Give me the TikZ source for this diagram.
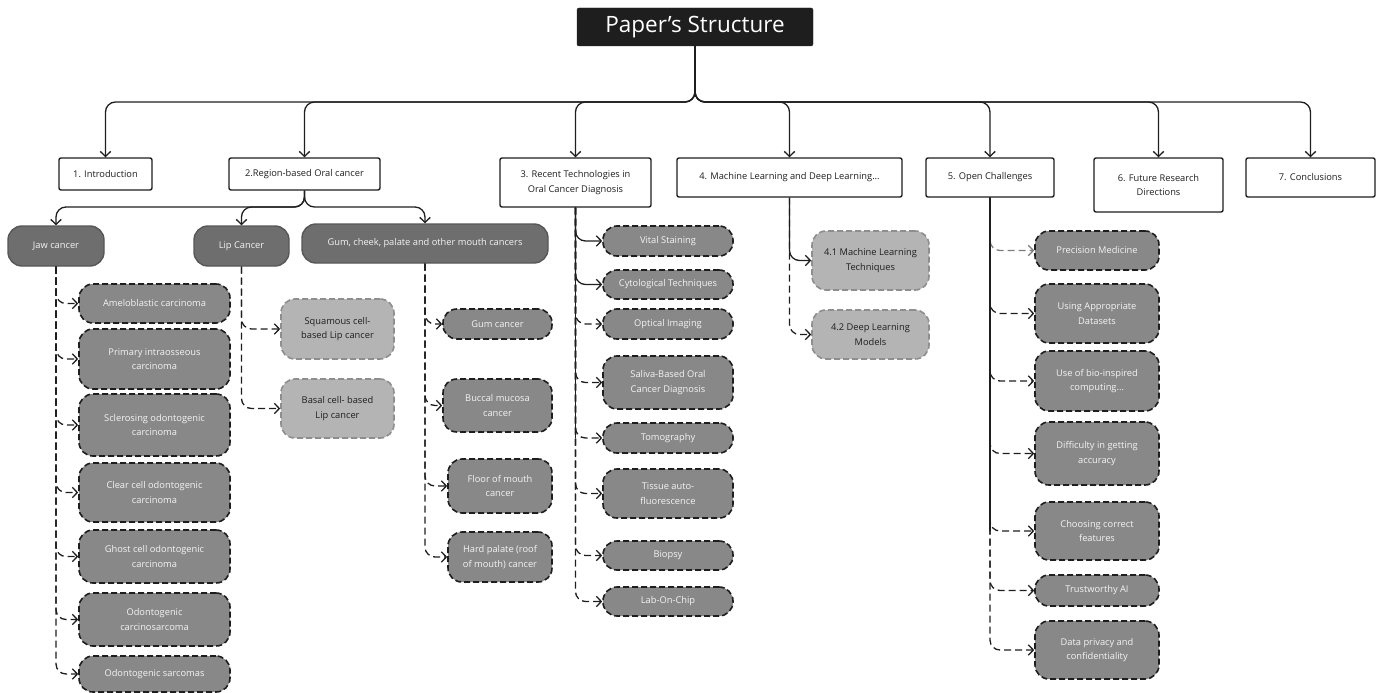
\documentclass[tikz,border=0pt]{standalone}
\usepackage{fontspec}
\setmainfont{Open Sans}
\usetikzlibrary{arrows.meta}
\definecolor{psInk}{HTML}{1E1E1E}
\definecolor{psDark}{HTML}{6E6E6E}
\definecolor{psDarkEdge}{HTML}{575757}
\definecolor{psLeaf}{HTML}{888888}
\definecolor{psPale}{HTML}{B4B4B4}
\definecolor{psPaleEdge}{HTML}{8E8E8E}
\definecolor{psFaint}{HTML}{7C7C7C}
\definecolor{psLight}{HTML}{F4F4F4}
\tikzset{
  ps title/.style={fill=psInk, draw=psInk, rounded corners=2pt, text=white, inner sep=0pt,
    font=\fontsize{22.5}{27}\selectfont, minimum width=236pt, minimum height=38pt},
  ps section/.style={draw=psInk, fill=white, line width=1.4pt, rounded corners=2pt, align=center,
    text=psInk, inner sep=0pt, font=\fontsize{9.3}{14.5}\selectfont},
  ps region/.style={draw=psDarkEdge, fill=psDark, line width=1.4pt, rounded corners=14pt,
    text=psLight, inner sep=0pt, font=\fontsize{9.3}{14.5}\selectfont},
  ps leaf/.style={draw=psInk, fill=psLeaf, line width=1.6pt, dash pattern=on 6pt off 3pt,
    rounded corners=14pt, align=center, text=psLight, inner sep=0pt, font=\fontsize{9.3}{14.5}\selectfont},
  ps pale/.style={ps leaf, draw=psPaleEdge, fill=psPale, text=psInk},
  ps link/.style={draw=psInk, line width=1.3pt, rounded corners=10pt,
    -{Straight Barb[length=5pt,width=10.5pt]}},
  ps dlink/.style={ps link, dash pattern=on 7pt off 4pt},
  ps trunk/.style={draw=psInk, line width=1.3pt},
}
\begin{document}
\begin{tikzpicture}[x=1pt,y=-1pt]
  \useasboundingbox (0,0) rectangle (1382,693);

  % Title and the seven sections
  \node[ps title] (title) at (695,27) {Paper’s Structure};
  \coordinate (bus) at (0,102);

  \node[ps section, minimum width=93pt, minimum height=32pt] (intro) at (105.5,174) {1. Introduction};
  \node[ps section, minimum width=151pt, minimum height=32pt] (region) at (304.5,174) {2.Region-based Oral cancer};
  \node[ps section, minimum width=151pt, minimum height=49pt] (tech) at (575.5,182.5) {3. Recent Technologies in\\Oral Cancer Diagnosis};
  \node[ps section, minimum width=225pt, minimum height=39pt] (ml) at (789.5,177.5) {4. Machine Learning and Deep Learning...};
  \node[ps section, minimum width=128pt, minimum height=39pt] (open) at (990,177.5) {5. Open Challenges};
  \node[ps section, minimum width=129pt, minimum height=54pt] (future) at (1158.5,185) {6. Future Research\\Directions};
  \node[ps section, minimum width=129pt, minimum height=39pt] (concl) at (1310.5,177.5) {7. Conclusions};

  \foreach \s in {intro,region,tech,ml,open,future,concl} {
    \draw[ps link] (title.south) |- (bus -| \s.north) -- (\s.north);
  }

  % Region-based oral cancer
  \node[ps region, minimum width=96pt, minimum height=40pt] (jaw) at (56,246) {Jaw cancer};
  \node[ps region, minimum width=95pt, minimum height=40pt] (lip) at (241.5,246) {Lip Cancer};
  \node[ps region, minimum width=246pt, minimum height=39pt] (gum) at (425,243.5) {Gum, cheek, palate and other mouth cancers};
  \coordinate (fork) at (0,207);
  \foreach \s in {jaw,lip,gum} {
    \draw[ps link] (region.south) |- (fork -| \s.north) -- (\s.north);
  }

  % Jaw cancer
  \node[ps leaf, minimum width=151pt, minimum height=39pt] (amelo) at (154.5,303.5) {Ameloblastic carcinoma};
  \node[ps leaf, minimum width=151pt, minimum height=60pt] (primary) at (154.5,359) {Primary intraosseous\\carcinoma};
  \node[ps leaf, minimum width=151pt, minimum height=62pt] (scler) at (154.5,425) {Sclerosing odontogenic\\carcinoma};
  \node[ps leaf, minimum width=151pt, minimum height=59pt] (clear) at (154.5,492.5) {Clear cell odontogenic\\carcinoma};
  \node[ps leaf, minimum width=151pt, minimum height=53pt] (ghost) at (154.5,556.5) {Ghost cell odontogenic\\carcinoma};
  \node[ps leaf, minimum width=151pt, minimum height=53pt] (carcino) at (154.5,619.5) {Odontogenic\\carcinosarcoma};
  \node[ps leaf, minimum width=151pt, minimum height=36pt] (sarcoma) at (154.5,674) {Odontogenic sarcomas};
  \foreach \s in {amelo,primary,scler,clear,ghost,carcino,sarcoma} {
    \draw[ps dlink] (jaw.south) |- (\s.west);
  }

  % Lip cancer
  \node[ps pale, minimum width=113pt, minimum height=60pt] (squam) at (337.5,329) {Squamous cell-\\based Lip cancer};
  \node[ps pale, minimum width=113pt, minimum height=59pt] (basal) at (337.5,408.5) {Basal cell- based\\Lip cancer};
  \foreach \s in {squam,basal} {
    \draw[ps dlink] (lip.south) |- (\s.west);
  }

  % Gum, cheek, palate
  \node[ps leaf, minimum width=109pt, minimum height=30pt] (gumc) at (497.5,324) {Gum cancer};
  \node[ps leaf, minimum width=109pt, minimum height=53pt] (buccal) at (497.5,405.5) {Buccal mucosa\\cancer};
  \node[ps leaf, minimum width=104pt, minimum height=54pt] (floor) at (500,486) {Floor of mouth\\cancer};
  \node[ps leaf, minimum width=104pt, minimum height=50pt] (hard) at (500,557) {Hard palate (roof\\of mouth) cancer};
  \foreach \s in {gumc,buccal,floor,hard} {
    \draw[ps dlink] (gum.south) |- (\s.west);
  }

  % Recent technologies
  \node[ps leaf, minimum width=130pt, minimum height=30pt] (vital) at (668,241) {Vital Staining};
  \node[ps leaf, minimum width=130pt, minimum height=29pt] (cyto) at (668,284.5) {Cytological Techniques};
  \node[ps leaf, minimum width=130pt, minimum height=30pt] (optical) at (668,324) {Optical Imaging};
  \node[ps leaf, minimum width=130pt, minimum height=53pt] (saliva) at (668,382.5) {Saliva-Based Oral\\Cancer Diagnosis};
  \node[ps leaf, minimum width=130pt, minimum height=30pt] (tomo) at (668,438) {Tomography};
  \node[ps leaf, minimum width=130pt, minimum height=49pt] (tissue) at (668,493.5) {Tissue auto-\\fluorescence};
  \node[ps leaf, minimum width=130pt, minimum height=29pt] (biopsy) at (668,555.5) {Biopsy};
  \node[ps leaf, minimum width=130pt, minimum height=29pt] (lab) at (668,601.5) {Lab-On-Chip};
  \draw[ps trunk] (tech.south) -- (tech.south |- tomo.west);
  \draw[ps link] (tech.south) |- (vital.west);
  \draw[ps link] (tech.south) |- (cyto.west);
  \foreach \s in {optical,saliva,tomo,tissue,biopsy,lab} {
    \draw[ps dlink] (tech.south) |- (\s.west);
  }

  % Machine learning and deep learning
  \node[ps pale, minimum width=117pt, minimum height=59pt] (mlt) at (870.5,260.5) {4.1 Machine Learning\\Techniques};
  \node[ps pale, minimum width=117pt, minimum height=49pt] (dlm) at (870.5,334.5) {4.2 Deep Learning\\Models};
  \draw[ps link] (ml.south) |- (mlt.west);
  \draw[ps dlink] (ml.south) |- (dlm.west);

  % Open challenges
  \node[ps leaf, minimum width=124pt, minimum height=39pt] (prec) at (1097,250.5) {Precision Medicine};
  \node[ps leaf, minimum width=124pt, minimum height=59pt] (datasets) at (1097,313.5) {Using Appropriate\\Datasets};
  \node[ps leaf, minimum width=124pt, minimum height=60pt] (bio) at (1097,381) {Use of bio-inspired\\computing...};
  \node[ps leaf, minimum width=124pt, minimum height=63pt] (diff) at (1097,453.5) {Difficulty in getting\\accuracy};
  \node[ps leaf, minimum width=124pt, minimum height=58pt] (choose) at (1097,531) {Choosing correct\\features};
  \node[ps leaf, minimum width=124pt, minimum height=31pt] (trust) at (1097,590.5) {Trustworthy AI};
  \node[ps leaf, minimum width=124pt, minimum height=58pt] (privacy) at (1097,650) {Data privacy and\\confidentiality};
  \draw[ps trunk] (open.south) -- (open.south |- choose.west);
  \draw[ps dlink, draw=psFaint] (open.south) |- (prec.west);
  \foreach \s in {datasets,bio,diff,choose,trust,privacy} {
    \draw[ps dlink] (open.south) |- (\s.west);
  }
\end{tikzpicture}
\end{document}
